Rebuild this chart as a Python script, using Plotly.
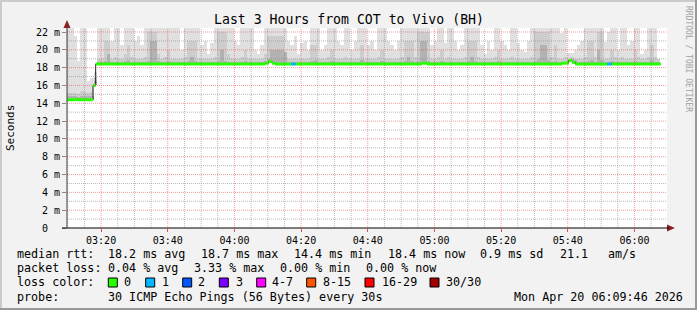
import pandas as pd
import plotly.graph_objects as go

# ---------------- data ----------------
DAY = "2026-04-20 "
X_START = "03:09:46"
X_END = "06:09:46"

# median rtt (ms) as step segments: segment start times, values, loss class
med_times = ["03:09:46", "03:17:34", "03:18:22", "04:09:16", "04:10:16", "04:11:16",
             "04:12:16", "04:16:58", "04:18:22", "04:56:16", "04:57:46", "05:38:16",
             "05:40:16", "05:41:16", "05:42:16", "05:51:46", "05:53:10"]
med_end = "06:07:52"
med_vals = [14.4, 16.0, 18.4, 18.5, 18.7, 18.5, 18.4, 18.4, 18.4, 18.5, 18.4, 18.5,
            18.8, 18.6, 18.4, 18.4, 18.4]
med_loss = [0, 0, 0, 0, 0, 0, 0, 1, 0, 0, 0, 0, 0, 0, 0, 1, 0]

# smoke (ping distribution) per minute since start: upper edge of each grey band (ms)
smoke_max = [24, 24, 21.5, 18.8, 24, 24, 16.5, 16.8, 17.5, 24,
             24, 24, 24, 21, 24, 24, 20.5, 24, 24, 24,
             21, 21.5, 20.5, 24, 24, 24, 24, 24, 24, 24,
             24, 24, 23, 22.8, 20, 24, 24, 24, 24, 24,
             20.5, 21, 19.5, 20.8, 24, 24, 24, 24, 24, 24,
             21, 20.5, 24, 24, 24, 24, 20, 19.5, 20.5, 24,
             24, 24, 24, 24, 24, 24, 21, 20.5, 21.5, 19.5,
             20.8, 21, 20, 24, 24, 24, 20, 20.5, 24, 24,
             24, 21, 20.5, 24, 24, 20, 21, 24, 24, 24,
             20.5, 21, 20, 24, 24, 24, 21, 20.5, 20, 21,
             24, 24, 24, 24, 24, 24, 24, 24, 24, 20.5,
             21, 24, 24, 20.8, 24, 24, 21, 20, 20.5, 24,
             24, 24, 24, 24, 20.5, 19.5, 21, 20, 24, 24,
             21, 20.5, 20, 24, 24, 20.8, 20, 19.8, 21, 24,
             24, 24, 24, 24, 24, 24, 24, 24, 21.9, 24,
             19.7, 19.7, 20, 20.5, 21, 24, 24, 24, 24, 24,
             24, 20.9, 22, 24, 24, 20, 24, 24, 20.5, 21,
             24, 24, 19.5, 20, 24, 24, 24, 19]
smoke_mid = [15.2, 15.2, 15.2, 15.0, 15.4, 15.3, 15.2, 15.3, 17.0, 19.0,
             19.0, 21.0, 21.0, 19.0, 19.2, 19.0, 19.0, 19.5, 20.5, 19.2,
             19.0, 19.0, 19.0, 19.2, 22.0, 22.0, 22.0, 19.5, 19.0, 19.2,
             20.0, 19.0, 19.0, 19.0, 19.0, 19.2, 21.0, 21.0, 21.0, 19.0,
             19.0, 19.0, 19.0, 19.0, 19.2, 22.0, 22.0, 22.0, 19.5, 19.0,
             19.0, 19.0, 19.2, 20.0, 19.0, 19.0, 19.0, 19.0, 19.0, 19.5,
             21.5, 21.5, 21.5, 21.5, 21.5, 19.5, 19.0, 19.0, 19.0, 19.0,
             19.0, 19.0, 19.0, 20.5, 20.5, 19.0, 19.0, 19.0, 19.2, 20.0,
             19.0, 19.0, 19.0, 19.2, 19.0, 19.0, 19.0, 19.0, 20.5, 19.0,
             19.0, 19.0, 19.0, 19.2, 20.0, 19.0, 19.0, 19.0, 19.0, 19.0,
             19.2, 21.0, 21.0, 21.0, 19.2, 22.0, 22.0, 22.0, 22.0, 19.0,
             19.0, 19.2, 20.0, 19.0, 19.2, 19.0, 19.0, 19.0, 19.0, 19.2,
             21.0, 21.0, 21.0, 19.2, 19.0, 19.0, 19.0, 19.0, 19.2, 20.0,
             19.0, 19.0, 19.0, 19.2, 19.0, 19.0, 19.0, 19.0, 19.0, 19.2,
             22.0, 22.0, 22.0, 22.0, 22.0, 19.2, 20.5, 19.0, 19.0, 19.2,
             19.0, 19.2, 19.0, 19.0, 19.0, 19.2, 21.0, 21.0, 19.2, 22.0,
             22.0, 19.0, 19.0, 20.0, 19.2, 19.0, 19.2, 19.0, 19.0, 19.0,
             20.0, 19.2, 19.0, 19.0, 19.2, 20.5, 19.2, 19.0]
smoke_dark = [14.8, 14.8, 14.8, 14.7, 14.8, 14.8, 14.8, 14.8, 16.5, 18.6,
              18.6, 18.8, 19.5, 18.6, 18.6, 18.6, 18.6, 18.8, 18.9, 18.6,
              18.6, 18.6, 18.6, 18.6, 18.8, 21.0, 21.0, 18.8, 18.6, 18.6,
              18.8, 18.6, 18.6, 18.6, 18.6, 18.6, 18.8, 19.2, 18.8, 18.6,
              18.6, 18.6, 18.6, 18.6, 18.6, 18.8, 20.0, 18.8, 18.6, 18.6,
              18.6, 18.6, 18.6, 18.8, 18.6, 18.6, 18.6, 18.6, 18.6, 18.8,
              19.0, 20.0, 20.0, 20.0, 20.0, 19.8, 18.6, 18.6, 18.6, 18.6,
              18.6, 18.6, 18.6, 18.8, 18.9, 18.6, 18.6, 18.6, 18.6, 18.8,
              18.6, 18.6, 18.6, 18.6, 18.6, 18.6, 18.6, 18.6, 18.9, 18.6,
              18.6, 18.6, 18.6, 18.6, 18.8, 18.6, 18.6, 18.6, 18.6, 18.6,
              18.6, 18.8, 19.2, 18.8, 18.6, 18.8, 21.0, 21.0, 18.8, 18.6,
              18.6, 18.6, 18.8, 18.6, 18.6, 18.6, 18.6, 18.6, 18.6, 18.6,
              18.8, 19.2, 18.8, 18.6, 18.6, 18.6, 18.6, 18.6, 18.6, 18.8,
              18.6, 18.6, 18.6, 18.6, 18.6, 18.6, 18.6, 18.6, 18.6, 18.6,
              18.8, 19.0, 20.5, 20.5, 18.9, 18.6, 18.8, 18.6, 18.6, 18.6,
              18.6, 19.0, 18.9, 18.6, 18.6, 18.6, 18.8, 18.9, 18.6, 20.0,
              18.9, 18.6, 18.6, 18.8, 18.6, 18.6, 18.6, 18.6, 18.6, 18.6,
              18.8, 18.6, 18.6, 18.6, 18.6, 18.9, 18.6, 18.6]

y_tickvals = [0, 2, 4, 6, 8, 10, 12, 14, 16, 18, 20, 22]
y_ticktext = ["0\u00a0\u00a0", "2 m", "4 m", "6 m", "8 m", "10 m", "12 m", "14 m",
              "16 m", "18 m", "20 m", "22 m"]

title_text = "Last 3 Hours from COT to Vivo (BH)"
y_title = "Seconds"
rrd_credit = "RRDTOOL / TOBI OETIKER"

legend_rtt = ["median rtt:", "18.2 ms avg", "18.7 ms max", "14.4 ms min", "18.4 ms now",
              "0.9 ms sd", "21.1", "am/s"]
legend_loss = ["packet loss:", "0.04 % avg", "3.33 % max", "0.00 % min", "0.00 % now"]
loss_labels = ["0", "1", "2", "3", "4-7", "8-15", "16-29", "30/30"]
loss_colors = ["#26ff00", "#00b8ff", "#0059ff", "#7e00ff", "#ff00ff", "#ff5500", "#ff0000", "#a10000"]
probe_text = ["probe:", "30 ICMP Echo Pings (56 Bytes) every 30s", "Mon Apr 20 06:09:46 2026"]

# ---------------- layout geometry (pixels) ----------------
W, H = 697, 310
PL, PR, PT, PB = 67, 667, 28, 228
Y_MAX = 22.45

def fx(px):
    return (px - PL) / (PR - PL)

def fy(py):
    return (PB - py) / (PB - PT)

FONT = "DejaVu Sans Mono"

t0 = pd.Timestamp(DAY + X_START)
t1 = pd.Timestamp(DAY + X_END)
seg_start = [pd.Timestamp(DAY + t) for t in med_times]
seg_end = seg_start[1:] + [pd.Timestamp(DAY + med_end)]

def median_at(t):
    for s, e, v in zip(seg_start, seg_end, med_vals):
        if s <= t < e:
            return v
    return med_vals[-1]

fig = go.Figure()

# smoke bars
bar_x = [t0 + pd.Timedelta(seconds=60 * i + 30) for i in range(len(smoke_max))]
bar_base = [median_at(t) for t in bar_x]
for vals, col in [(smoke_max, "#e0e0e0"), (smoke_mid, "#cdcdcd"), (smoke_dark, "#b2b2b2")]:
    fig.add_trace(go.Bar(
        x=bar_x, y=[v - b for v, b in zip(vals, bar_base)], base=bar_base,
        width=60000, marker=dict(color=col, line=dict(width=0)),
        showlegend=False, hoverinfo="skip"))

# median thin black step line
fig.add_trace(go.Scatter(
    x=seg_start + [seg_end[-1]], y=med_vals + [med_vals[-1]],
    mode="lines", line=dict(color="#202020", width=1, shape="hv"),
    showlegend=False, hoverinfo="skip"))

# loss-coloured median segments
for lvl in sorted(set(med_loss)):
    xs, ys = [], []
    for s, e, v, l in zip(seg_start, seg_end, med_vals, med_loss):
        if l == lvl:
            xs += [s, e, None]
            ys += [v, v, None]
    fig.add_trace(go.Scatter(x=xs, y=ys, mode="lines",
                             line=dict(color=loss_colors[lvl], width=3),
                             showlegend=False, hoverinfo="skip"))

shapes = []
DOT = "1px,1px"
# grid (drawn above the smoke like rrdtool)
gt = pd.Timestamp(DAY + "03:10:00")
while gt <= t1:
    major = (gt.minute % 20 == 0)
    shapes.append(dict(type="line", xref="x", yref="paper", x0=gt, x1=gt, y0=0, y1=1,
                       line=dict(color="rgba(235,70,70,0.55)" if major else "rgba(130,130,130,0.55)",
                                 width=1, dash=DOT), layer="above"))
    gt += pd.Timedelta(minutes=5)
for yv in range(1, 23):
    major = (yv % 2 == 0)
    shapes.append(dict(type="line", xref="paper", yref="y", x0=0, x1=1, y0=yv, y1=yv,
                       line=dict(color="rgba(235,70,70,0.55)" if major else "rgba(130,130,130,0.55)",
                                 width=1, dash=DOT), layer="above"))

# axis arrows
shapes.append(dict(type="path", xref="paper", yref="paper", layer="above",
                   path=f"M {fx(63.5)},{fy(28)} L {fx(67)},{fy(20)} L {fx(70.5)},{fy(28)} Z",
                   fillcolor="#8e2020", line=dict(width=0)))
shapes.append(dict(type="path", xref="paper", yref="paper", layer="above",
                   path=f"M {fx(667)},{fy(224.5)} L {fx(675)},{fy(228)} L {fx(667)},{fy(231.5)} Z",
                   fillcolor="#8e2020", line=dict(width=0)))
# axis lines
shapes.append(dict(type="line", xref="paper", yref="paper", x0=fx(67), x1=fx(67),
                   y0=fy(228), y1=fy(27), line=dict(color="#404040", width=1), layer="above"))
shapes.append(dict(type="line", xref="paper", yref="paper", x0=fx(62), x1=fx(669),
                   y0=fy(228), y1=fy(228), line=dict(color="#000000", width=1), layer="above"))

# frame (3D shading)
shapes.append(dict(type="rect", xref="paper", yref="paper", x0=fx(0), x1=fx(W), y0=fy(0), y1=fy(2),
                   fillcolor="#cbcbcb", line=dict(width=0)))
shapes.append(dict(type="rect", xref="paper", yref="paper", x0=fx(0), x1=fx(2), y0=fy(0), y1=fy(H),
                   fillcolor="#cbcbcb", line=dict(width=0)))
shapes.append(dict(type="rect", xref="paper", yref="paper", x0=fx(695), x1=fx(W), y0=fy(0), y1=fy(H),
                   fillcolor="#999999", line=dict(width=0)))
shapes.append(dict(type="rect", xref="paper", yref="paper", x0=fx(0), x1=fx(W), y0=fy(308), y1=fy(H),
                   fillcolor="#999999", line=dict(width=0)))

annotations = []

def txt(s, px, py, size=11.7, anchor="left", color="#000000", angle=0):
    annotations.append(dict(text=s.replace(" ", "\u00a0"), x=fx(px), y=fy(py), xref="paper", yref="paper",
                            xanchor=anchor, yanchor="middle", showarrow=False, textangle=angle,
                            borderpad=0, font=dict(family=FONT, size=size, color=color)))

txt(title_text, 349, 19, size=13.2, anchor="center")
txt(y_title, 10, 128, size=11, anchor="center", angle=-90)
txt(rrd_credit, 689, 59, size=8, anchor="center", color="#a0a0a0", angle=90)

row1_x = [16, 107.3, 200, 293.3, 386.7, 479, 558.7, 606.7]
for s, px in zip(legend_rtt, row1_x):
    txt(s, px, 254.3)
row2_x = [16, 107.3, 193.3, 279.3, 365]
for s, px in zip(legend_loss, row2_x):
    txt(s, px, 268.3)
txt("loss color:", 16, 282.3)
box_x = [108.3, 145.7, 182.7, 219.3, 256.7, 306.7, 365, 430]
lab_x = [123.3, 161, 197.3, 235, 270.7, 322.3, 380.7, 445]
for lab, col, bx, lx in zip(loss_labels, loss_colors, box_x, lab_x):
    shapes.append(dict(type="rect", xref="paper", yref="paper", x0=fx(bx), x1=fx(bx + 9),
                       y0=fy(287), y1=fy(278), fillcolor=col, line=dict(color="#000000", width=1)))
    txt(lab, lx, 282.3)
txt(probe_text[0], 16, 296.7)
txt(probe_text[1], 107.3, 296.7)
txt(probe_text[2], 513.3, 296.7)

fig.update_layout(
    width=W, height=H, autosize=False,
    margin=dict(l=PL, r=W - PR, t=PT, b=H - PB, pad=0),
    paper_bgcolor="#f2f2f2", plot_bgcolor="#ffffff",
    barmode="overlay", bargap=0,
    shapes=shapes, annotations=annotations,
    xaxis=dict(type="date", range=[t0, t1], showgrid=False, zeroline=False, showline=False,
               tickformat="%H:%M", dtick=20 * 60 * 1000, tick0=DAY + "03:20:00",
               ticks="outside", ticklen=3, tickcolor="#e05050",
               tickfont=dict(family=FONT, size=10, color="#000000")),
    yaxis=dict(range=[0, Y_MAX], showgrid=False, zeroline=False, showline=False,
               tickmode="array", tickvals=y_tickvals, ticktext=y_ticktext,
               ticks="outside", ticklen=4, tickcolor="#888888",
               tickfont=dict(family=FONT, size=10, color="#000000")),
)

fig.write_html("out.html")
